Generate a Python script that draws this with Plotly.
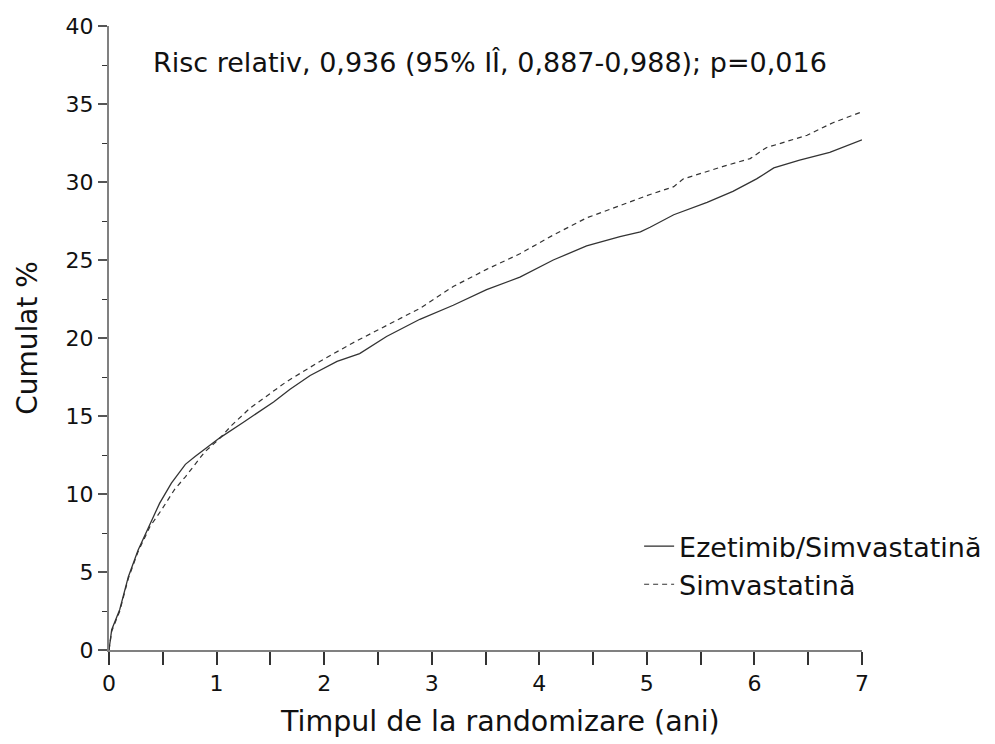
import plotly.graph_objects as go

# Ezetimib/Simvastatină (solid)
t_ezet = [0, 0.025, 0.10, 0.18, 0.27, 0.38, 0.47, 0.58, 0.71, 0.80, 0.92, 1.03, 1.25, 1.53, 1.68,
          1.87, 2.12, 2.33, 2.58, 2.89, 3.20, 3.51, 3.82, 4.13, 4.44, 4.75, 4.94, 5.03, 5.25, 5.56,
          5.80, 6.02, 6.18, 6.42, 6.70, 7.0]
v_ezet = [0, 1.3, 2.6, 4.7, 6.4, 8.1, 9.4, 10.7, 11.9, 12.4, 13.0, 13.6, 14.6, 15.9, 16.7,
          17.6, 18.5, 19.0, 20.1, 21.2, 22.1, 23.1, 23.9, 25.0, 25.9, 26.5, 26.8, 27.1, 27.9, 28.7,
          29.4, 30.2, 30.9, 31.4, 31.9, 32.7]

# Simvastatină (dashed)
t_simv = [0, 0.025, 0.10, 0.18, 0.27, 0.38, 0.49, 0.61, 0.71, 0.82, 0.89, 1.02, 1.14, 1.31, 1.65,
          1.96, 2.27, 2.58, 2.89, 3.20, 3.51, 3.82, 4.13, 4.44, 4.75, 5.03, 5.25, 5.34, 5.71, 5.96,
          6.11, 6.49, 6.73, 7.0]
v_simv = [0, 1.2, 2.5, 4.6, 6.3, 7.9, 9.0, 10.3, 11.1, 12.1, 12.7, 13.5, 14.4, 15.5, 17.2,
          18.5, 19.7, 20.8, 21.9, 23.3, 24.4, 25.4, 26.6, 27.7, 28.5, 29.2, 29.7, 30.2, 31.0, 31.5,
          32.2, 33.0, 33.8, 34.5]

series_names = ["Ezetimib/Simvastatină", "Simvastatină"]
x_title = "Timpul de la randomizare (ani)"
y_title = "Cumulat %"
note = "Risc relativ, 0,936 (95% IÎ, 0,887-0,988); p=0,016"

FONT = "DejaVu Sans, Verdana, sans-serif"

fig = go.Figure()
fig.add_trace(go.Scatter(x=t_ezet, y=v_ezet, mode="lines", name=series_names[0],
                         line=dict(color="#333333", width=1.3)))
fig.add_trace(go.Scatter(x=t_simv, y=v_simv, mode="lines", name=series_names[1],
                         line=dict(color="#333333", width=1.2, dash="5px,4px")))

fig.update_layout(
    width=995, height=744,
    margin=dict(l=101, r=141, t=18, b=102),
    paper_bgcolor="white", plot_bgcolor="white",
    font=dict(family=FONT, color="#111111", size=22),
    showlegend=True,
    legend=dict(x=0.704, y=0.205, xanchor="left", yanchor="top",
                font=dict(size=27, family=FONT, color="#111111"),
                bgcolor="rgba(0,0,0,0)", tracegroupgap=0, itemwidth=30),
    xaxis=dict(range=[0, 7], showgrid=False, zeroline=False, automargin=False,
               showline=True, linecolor="#808080", linewidth=2,
               ticks="outside", ticklen=13, tickwidth=1.5, tickcolor="#333333",
               dtick=1, tick0=0,
               minor=dict(ticks="outside", ticklen=13, tickwidth=1.5, tickcolor="#333333", dtick=0.5),
               tickfont=dict(size=22, family=FONT)),
    yaxis=dict(range=[0, 40], showgrid=False, zeroline=False, automargin=False,
               showline=True, linecolor="#808080", linewidth=2,
               ticks="outside", ticklen=9, tickwidth=1.5, tickcolor="#555555",
               dtick=5, tick0=0,
               minor=dict(ticks="outside", ticklen=5, tickwidth=1.2, tickcolor="#333333", dtick=2.5),
               tickfont=dict(size=22, family=FONT),
               title=dict(text=y_title, font=dict(size=28, family=FONT), standoff=20)),
    annotations=[
        dict(text=note, x=0.506, y=0.942, xref="paper", yref="paper",
             xanchor="center", yanchor="middle", showarrow=False,
             font=dict(size=27, family=FONT, color="#111111")),
        dict(text=x_title, x=0.519, y=-0.115, xref="paper", yref="paper",
             xanchor="center", yanchor="middle", showarrow=False,
             font=dict(size=28.5, family=FONT, color="#111111")),
    ],
)

fig.write_html("out.html")
